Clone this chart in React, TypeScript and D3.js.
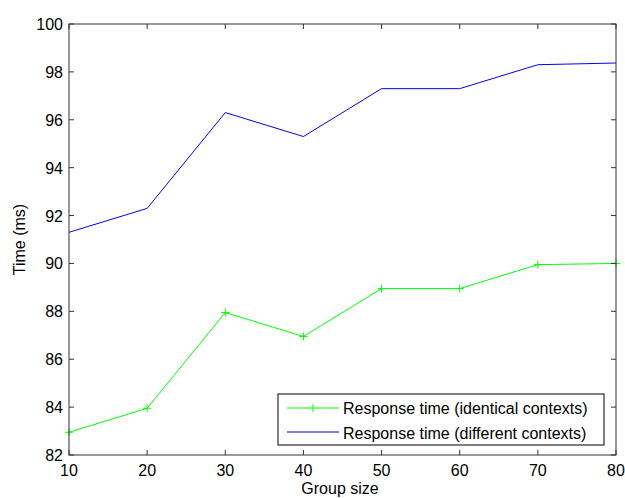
import React from "react";
import * as d3 from "d3";

const groupSizes = [10, 20, 30, 40, 50, 60, 70, 80];
const identical = [82.95, 83.95, 87.95, 86.95, 88.95, 88.95, 89.95, 90.0];
const different = [91.3, 92.3, 96.3, 95.3, 97.3, 97.3, 98.3, 98.37];
const xTicks = [10, 20, 30, 40, 50, 60, 70, 80];
const yTicks = [82, 84, 86, 88, 90, 92, 94, 96, 98, 100];
const seriesNames = ["Response time (identical contexts)", "Response time (different contexts)"];

const W = 625, H = 498;
const L = 69, R = 616, T = 24, B = 455;

export default function App() {
  const x = d3.scaleLinear().domain([10, 80]).range([L, R]);
  const y = d3.scaleLinear().domain([82, 100]).range([B, T]);
  const line = d3.line<number>().x((_, i) => x(groupSizes[i])).y((d) => y(d));
  const font = "Liberation Sans, Arial, sans-serif";
  const fs = 16;
  const axisColor = "#333";
  const tl = 5;
  return (
    <svg width={W} height={H} style={{ position: "absolute", left: 0, top: 0, background: "#fff" }}>
      <rect x={0} y={0} width={W} height={H} fill="#fff" />
      <path d={line(different) || ""} fill="none" stroke="#0000ff" strokeWidth={1} />
      <path d={line(identical) || ""} fill="none" stroke="#00ff00" strokeWidth={1} />
      {identical.map((v, i) => (
        <g key={i} stroke="#00ff00" strokeWidth={1}>
          <line x1={x(groupSizes[i]) - 4} x2={x(groupSizes[i]) + 4} y1={y(v)} y2={y(v)} />
          <line x1={x(groupSizes[i])} x2={x(groupSizes[i])} y1={y(v) - 4} y2={y(v) + 4} />
        </g>
      ))}
      <rect x={L} y={T} width={R - L} height={B - T} fill="none" stroke={axisColor} strokeWidth={1} />
      {xTicks.map((t) => (
        <g key={"x" + t}>
          <line x1={x(t)} x2={x(t)} y1={B} y2={B - tl} stroke={axisColor} />
          <line x1={x(t)} x2={x(t)} y1={T} y2={T + tl} stroke={axisColor} />
          <text x={x(t)} y={B + 21} textAnchor="middle" fontFamily={font} fontSize={fs} fill="#000">{t}</text>
        </g>
      ))}
      {yTicks.map((t) => (
        <g key={"y" + t}>
          <line x1={L} x2={L + tl} y1={y(t)} y2={y(t)} stroke={axisColor} />
          <line x1={R} x2={R - tl} y1={y(t)} y2={y(t)} stroke={axisColor} />
          <text x={L - 6} y={y(t) + 6} textAnchor="end" fontFamily={font} fontSize={fs} fill="#000">{t}</text>
        </g>
      ))}
      <text x={340} y={494} textAnchor="middle" fontFamily={font} fontSize={fs} fill="#000">Group size</text>
      <text transform={`translate(25,${(T + B) / 2}) rotate(-90)`} textAnchor="middle" fontFamily={font} fontSize={fs} fill="#000">Time (ms)</text>
      <g>
        <rect x={278} y={394} width={326} height={51} fill="#fff" stroke="#000" strokeWidth={1} />
        <line x1={287} x2={339} y1={408} y2={408} stroke="#00ff00" />
        <line x1={313} x2={313} y1={404} y2={412} stroke="#00ff00" />
        <line x1={287} x2={339} y1={432} y2={432} stroke="#0000ff" />
        <text x={343} y={414} fontFamily={font} fontSize={fs} fill="#000">{seriesNames[0]}</text>
        <text x={343} y={439} fontFamily={font} fontSize={fs} fill="#000">{seriesNames[1]}</text>
      </g>
    </svg>
  );
}
